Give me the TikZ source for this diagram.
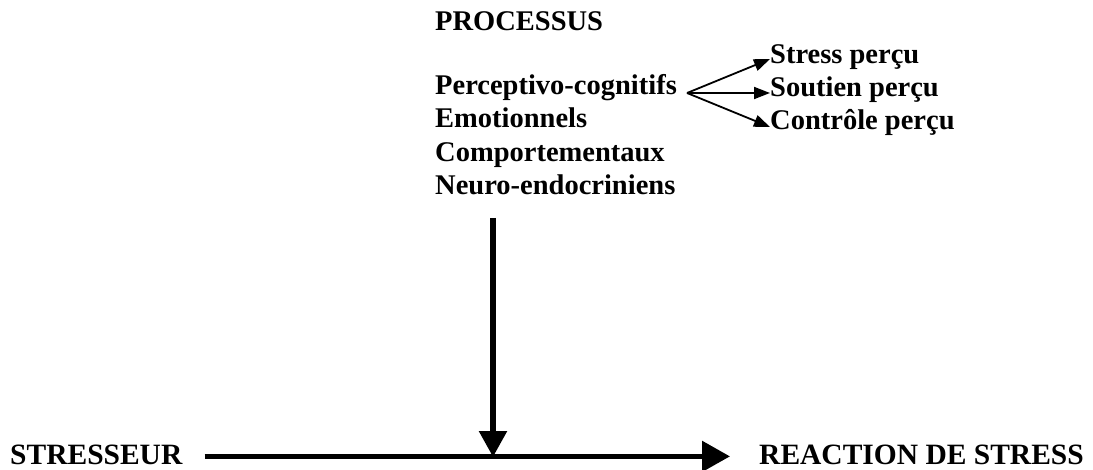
\documentclass[tikz,border=0pt]{standalone}
\usepackage{fontspec}
\setmainfont{Liberation Serif}
\usetikzlibrary{arrows.meta}
\begin{document}
\begin{tikzpicture}[x=1pt,y=1pt,
  lbl/.style={anchor=base west,inner sep=0pt,font=\fontsize{28.5}{33}\selectfont\bfseries},
  biglbl/.style={lbl,font=\fontsize{29.5}{33}\selectfont\bfseries},
  bigarrow/.style={line width=5pt,-{Triangle[length=28pt,width=30pt]}},
  downarrow/.style={line width=5.5pt,-{Triangle[length=26pt,width=27pt]}},
  smallarrow/.style={line width=1.8pt,-{Triangle[length=16pt,width=12pt]}}]
\fill[white] (0,0) rectangle (1093,469);
\useasboundingbox (0,0) rectangle (1093,469);
\node[lbl] (proc) at (435,438) {PROCESSUS};
\node[lbl] (perc) at (435,374) {Perceptivo-cognitifs};
\node[lbl] (emo) at (435,341) {Emotionnels};
\node[lbl] (comp) at (435,307) {Comportementaux};
\node[lbl] (neuro) at (435,274) {Neuro-endocriniens};
\node[lbl] (stress) at (770,405) {Stress perçu};
\node[lbl] (soutien) at (770,372) {Soutien perçu};
\node[lbl] (controle) at (770,339) {Contrôle perçu};
\node[biglbl] (stresseur) at (10,5) {STRESSEUR};
\node[biglbl] (reaction) at (759,5) {REACTION DE STRESS};
\coordinate (fork) at ([xshift=10pt,yshift=2pt]perc.base east);
\coordinate (vtop) at (493,251);
\coordinate (join) at (493,12);
\draw[smallarrow] (fork) -- ([yshift=5pt]stress.base west);
\draw[smallarrow] (fork) -- ([yshift=4pt]soutien.base west);
\draw[smallarrow] (fork) -- ([yshift=3pt]controle.base west);
\draw[bigarrow] ([xshift=22pt,yshift=-2pt]stresseur.east) -- ([xshift=-29pt,yshift=-2pt]reaction.west);
\draw[downarrow] (vtop) -- (join);
\end{tikzpicture}
\end{document}
